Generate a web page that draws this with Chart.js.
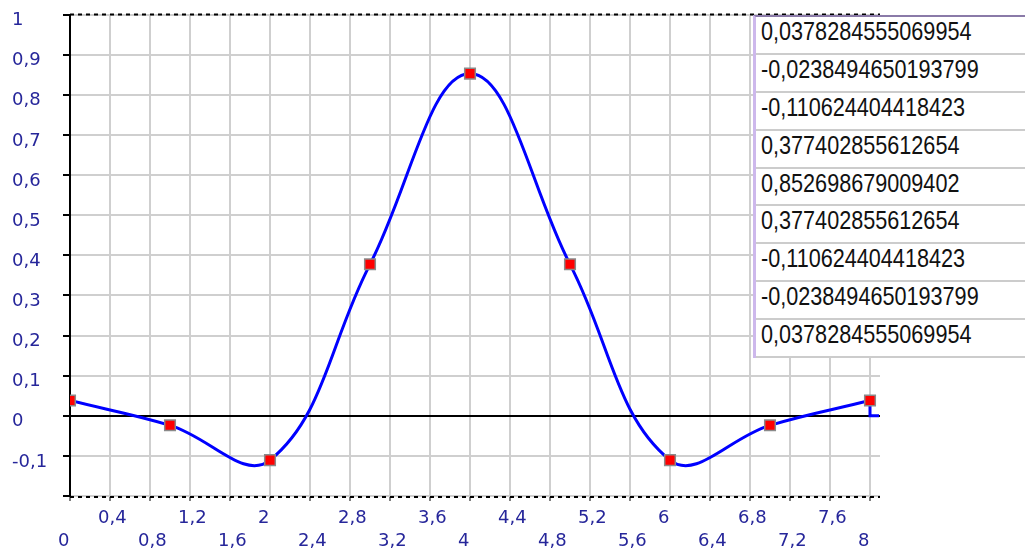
<!DOCTYPE html>
<html><head><meta charset="utf-8">
<script src="https://cdn.jsdelivr.net/npm/chart.js@4/dist/chart.umd.min.js"></script>
<style>
html,body{margin:0;padding:0;background:#fff;width:1025px;height:553px;overflow:hidden;}
#wrap{position:relative;width:1025px;height:553px;}
canvas{position:absolute;left:0;top:0;}
#tbl{position:absolute;left:753px;top:15px;width:272px;height:343px;background:#fff;border-top:2px solid #8a7aa8;border-left:3px solid #cdb8ec;box-sizing:border-box;}
.row{height:37.9px;box-sizing:border-box;border-bottom:2px solid #cccccc;font-family:"Liberation Sans",Arial,sans-serif;font-size:25px;line-height:27px;padding-left:5px;padding-top:1px;white-space:nowrap;color:#111;}
.row span{display:inline-block;transform:scaleX(0.865);transform-origin:0 0;}
</style></head>
<body>
<div id="wrap">
<canvas id="c" width="1025" height="553"></canvas>
<div id="tbl"></div>
</div>
<script>
const xValues = [0, 1, 2, 3, 4, 5, 6, 7, 8];
const yValues = [0.0378284555069954, -0.0238494650193799, -0.110624404418423, 0.377402855612654, 0.852698679009402, 0.377402855612654, -0.110624404418423, -0.0238494650193799, 0.0378284555069954];
const tailX = [8, 8, 8.09];
const tailY = [0.0378284555069954, 0, 0];
const xTickValues = [0, 0.4, 0.8, 1.2, 1.6, 2, 2.4, 2.8, 3.2, 3.6, 4, 4.4, 4.8, 5.2, 5.6, 6, 6.4, 6.8, 7.2, 7.6, 8];
const yTickValues = [-0.2, -0.1, 0, 0.1, 0.2, 0.3, 0.4, 0.5, 0.6, 0.7, 0.8, 0.9, 1];

const tbl = document.getElementById('tbl');
yValues.forEach(v => {
  const r = document.createElement('div');
  r.className = 'row';
  const s = document.createElement('span');
  s.textContent = String(v).replace('.', ',');
  r.appendChild(s);
  tbl.appendChild(r);
});

const fmt = v => String(Math.round(v * 10) / 10).replace('.', ',');
const labelColor = '#26269a';
const labelFont = {family: 'DejaVu Sans', size: 18, lineHeight: '23px'};

const frame = {
  id: 'frame',
  beforeDatasetsDraw(chart) {
    const {ctx, chartArea: a} = chart;
    ctx.save();
    ctx.strokeStyle = '#000';
    ctx.lineWidth = 2;
    ctx.setLineDash([4, 4]);
    ctx.beginPath();
    ctx.moveTo(a.left, a.top);
    ctx.lineTo(a.right, a.top);
    ctx.moveTo(a.left, a.bottom + 1);
    ctx.lineTo(a.right, a.bottom + 1);
    ctx.stroke();
    ctx.restore();
  }
};

new Chart(document.getElementById('c'), {
  type: 'line',
  data: {
    datasets: [
      {
        data: xValues.map((x, i) => ({x, y: yValues[i]})),
        borderColor: '#0000ff', borderWidth: 3, tension: 0.4, fill: false,
        pointStyle: 'rect', pointRadius: 7.5,
        pointBackgroundColor: '#ff0000', pointBorderColor: '#8a8a8a', pointBorderWidth: 1.5
      },
      {
        data: tailX.map((x, i) => ({x, y: tailY[i]})),
        borderColor: '#0000ff', borderWidth: 3, tension: 0, fill: false, pointRadius: 0
      }
    ]
  },
  options: {
    responsive: false, animation: false, devicePixelRatio: 1,
    layout: {padding: {left: 12, top: 14, right: 145, bottom: 0}},
    plugins: {legend: {display: false}, tooltip: {enabled: false}},
    scales: {
      x: {
        type: 'linear', min: 0, max: 8.1,
        afterBuildTicks: s => { s.ticks = xTickValues.map(v => ({value: v})); },
        afterFit: s => { s.height = 57; },
        grid: {color: '#cfcfcf', lineWidth: 2, tickColor: '#000', tickWidth: 1, tickLength: 5},
        border: {display: false},
        ticks: {
          autoSkip: false, maxRotation: 0, minRotation: 0, align: 'start', labelOffset: -12, padding: 6,
          color: labelColor, font: labelFont,
          callback: (v, i) => (i % 2 === 0 ? ['', fmt(v)] : [fmt(v)])
        }
      },
      y: {
        type: 'linear', min: -0.2, max: 1,
        afterBuildTicks: s => { s.ticks = yTickValues.map(v => ({value: v})); },
        afterFit: s => { s.width = 58; },
        grid: {
          color: c => (c.tick && Math.abs(c.tick.value) < 1e-9 ? '#000' : '#cfcfcf'),
          lineWidth: 2, tickColor: '#000', tickWidth: 2, tickLength: 7
        },
        border: {display: true, color: '#000', width: 2},
        ticks: {
          crossAlign: 'far', labelOffset: 6, color: labelColor, font: labelFont,
          callback: v => (Math.abs(v + 0.2) < 1e-9 ? '' : fmt(v))
        }
      }
    }
  },
  plugins: [frame]
});
</script>
</body></html>
